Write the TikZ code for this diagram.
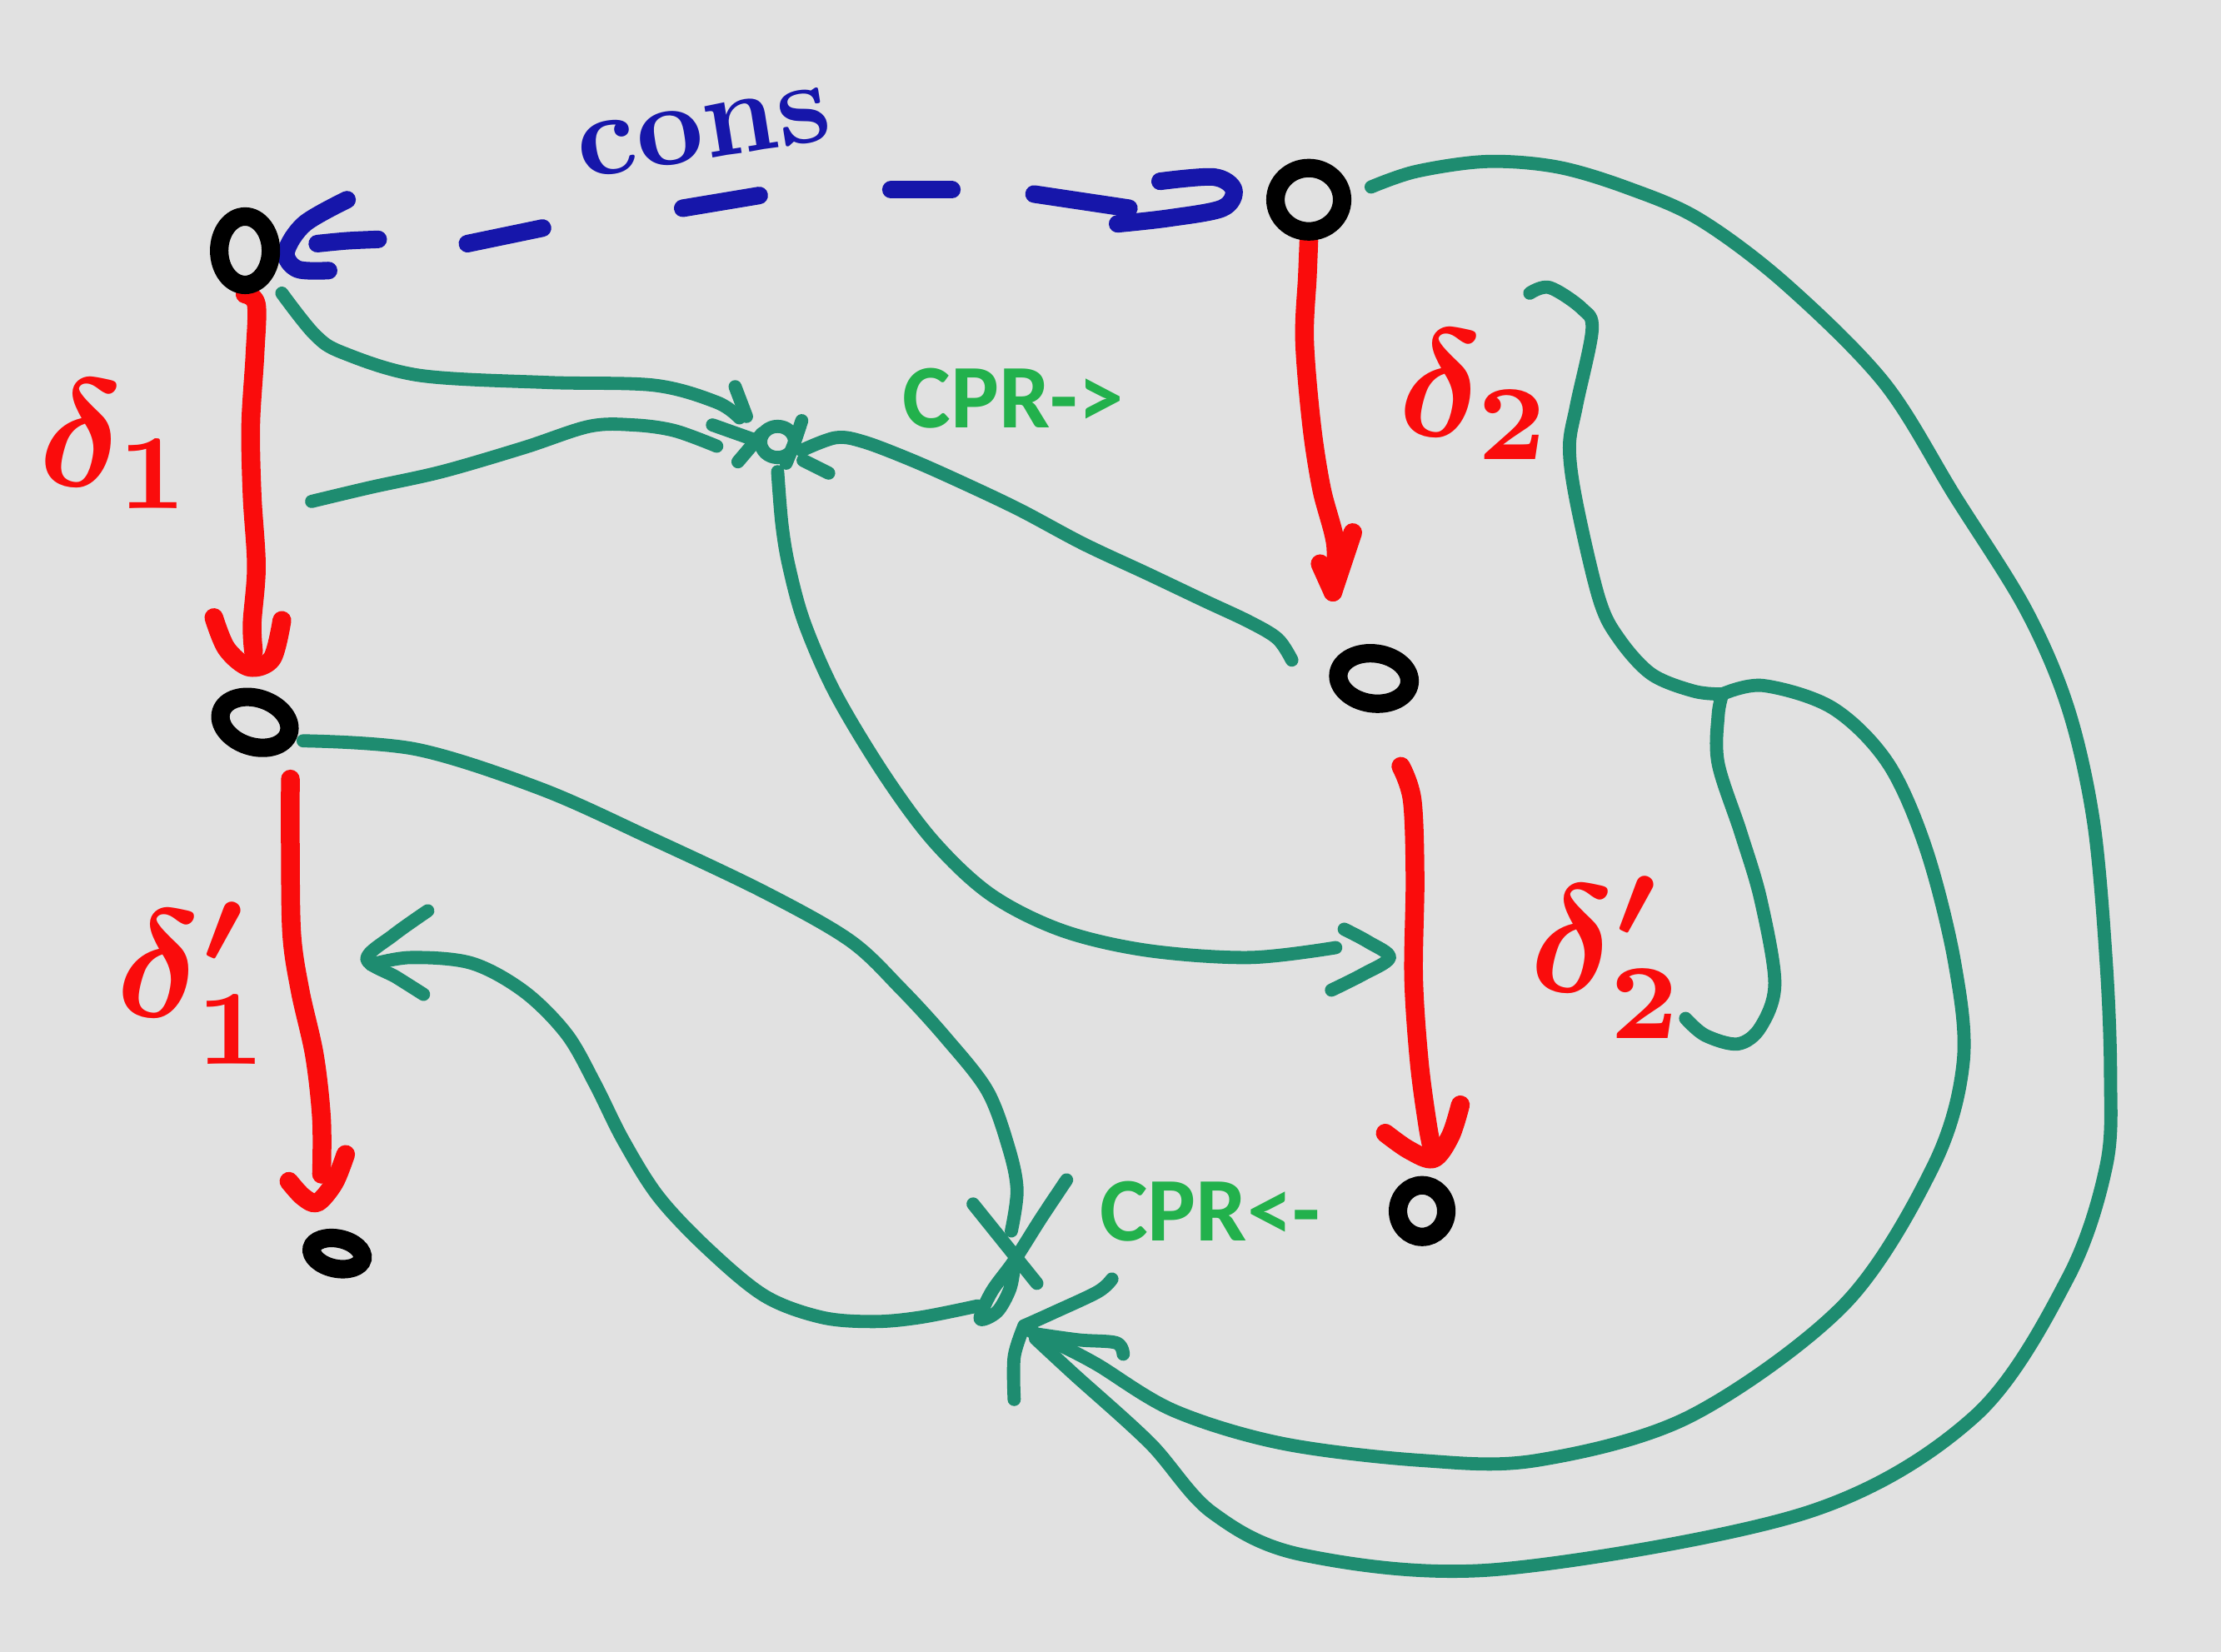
\documentclass[tikz,border=0pt]{standalone}
\usepackage{fontspec}
\newfontfamily\cprfont{Carlito}
\usetikzlibrary{shapes.geometric}
\definecolor{bgc}{RGB}{225,225,225}
\definecolor{myred}{RGB}{250,12,12}
\definecolor{myblue}{RGB}{22,22,170}
\definecolor{mygreen}{RGB}{30,140,112}
\definecolor{cprgreen}{RGB}{34,177,76}
\pgfdeclarelayer{back}
\pgfdeclarelayer{mid}
\pgfsetlayers{back,mid,main}
\begin{document}
\begin{tikzpicture}[x=0.017cm,y=-0.017cm,
  onode/.style={ellipse,draw=black,line width=6.3pt,inner sep=0pt},
  redline/.style={draw=myred,line width=6.4pt,line cap=round,line join=round},
  greenline/.style={draw=mygreen,line width=4.5pt,line cap=round,line join=round},
  blueline/.style={draw=myblue,line width=6pt,line cap=round,line join=round},
  dlabel/.style={text=myred,font=\boldmath,scale=5.2,inner sep=0pt,anchor=base west},
  cprlabel/.style={text=cprgreen,font=\cprfont\bfseries\fontsize{31}{31}\selectfont,inner sep=0pt,anchor=base west},
  sm/.style={smooth,tension=0.55}]
\begin{pgfonlayer}{back}
\fill[bgc] (0,0) rectangle (1568,1166);
\end{pgfonlayer}
\useasboundingbox (0,0) rectangle (1568,1166);

% objects
\node[onode,minimum width=0.62cm,minimum height=0.82cm] (A) at (173,177) {};
\node[onode,minimum width=0.80cm,minimum height=0.76cm] (B) at (924,141) {};
\node[onode,minimum width=0.85cm,minimum height=0.58cm,rotate=-18] (C) at (180,510) {};
\node[onode,minimum width=0.86cm,minimum height=0.60cm,rotate=-8] (D) at (970,479) {};
\node[onode,minimum width=0.62cm,minimum height=0.36cm,rotate=-12] (E) at (238,885) {};
\node[onode,minimum width=0.58cm,minimum height=0.62cm] (F) at (1004,855) {};

% junctions
\coordinate (K) at (549,312);
\coordinate (X) at (716,890);
\coordinate (M) at (1216,490);
\coordinate (T) at (723,936);

% labels
\node[dlabel] (d1) at (25,343) {$\delta_1$};
\node[dlabel] (d2) at (985,308) {$\delta_2$};
\node[dlabel] (d1p) at (80,718) {$\delta_1'$};
\node[dlabel] (d2p) at (1078,700) {$\delta_2'$};
\node[text=myblue,font=\bfseries,rotate=9,scale=4,inner sep=0pt] (cons) at (497,94) {cons};
\node[cprlabel] (cprR) at (637,302) {CPR->};
\node[cprlabel] (cprL) at (776,876) {CPR<-};

\begin{pgfonlayer}{mid}
% blue cons arrow
\draw[blueline] plot[sm] coordinates {(245,141) (215,158) (202,178) (210,190) (232,191)};
\draw[blueline] plot[sm] coordinates {(224,172) (245,170) (267,169)};
\draw[blueline] (330,172) -- (383,161);
\draw[blueline] (482,147) -- (536,138);
\draw[blueline] (629,134) -- (672,134);
\draw[blueline] (730,137) -- (797,147);
\draw[blueline] plot[sm] coordinates {(819,128) (857,125) (871,134) (863,147) (825,154) (789,158)};

% red arrows
\draw[redline] plot[sm] coordinates {(A.south) (181,215) (180,250) (177,300) (178,350) (181,400) (178,440) (179,460)};
\draw[redline] plot[sm] coordinates {(151,436) (160,458) (176,471) (192,465) (199,438)};
\draw[redline] plot[sm] coordinates {(B.south) (923,195) (921,240) (926,300) (933,345) (943,385) (941,418)};
\draw[redline] (932,398) -- (941,418) -- (955,376);
\draw[redline] plot[sm] coordinates {(205,550) (205,600) (206,660) (212,700) (222,745) (227,790) (227,829)};
\draw[redline] plot[sm] coordinates {(204,834) (214,845) (224,849) (236,835) (244,815)};
\draw[redline] plot[sm] coordinates {(989,541) (997,565) (999,620) (998,690) (1002,750) (1008,795) (1012,815)};
\draw[redline] plot[sm] coordinates {(978,800) (995,812) (1012,818) (1024,802) (1031,780)};

% CPR-> junction
\draw[greenline] plot[sm] coordinates {(199,207) (222,236) (242,249) (296,265) (386,270) (462,272) (506,284) (522,295)};
\draw[greenline] plot[sm] coordinates {(220,354) (262,344) (312,333) (370,316) (416,301) (447,300) (476,304) (506,315)};
\draw[greenline] plot[sm] coordinates {(912,466) (902,451) (882,439) (850,424) (810,405) (765,384) (720,360) (680,341) (644,325) (610,312) (590,309) (566,318)};
\draw[greenline] (519,273) -- (527,294);
\draw[greenline] (503,300) -- (534,311);
\draw[greenline] (521,326) -- (538,306);
\draw[greenline] (K) ellipse [x radius=12, y radius=11];
\draw[greenline] plot[sm] coordinates {(566,297) (561,312) (555,327)};
\draw[greenline] (567,325) -- (585,334);
\draw[greenline] plot[sm] coordinates {(549,333) (552,370) (557,400) (568,440) (590,490) (625,548) (660,595) (700,632) (750,657) (810,671) (882,676) (943,669)};
\draw[greenline] plot[sm] coordinates {(949,656) (966,665) (981,676) (962,688) (940,699)};

% CPR<- junction
\draw[greenline] plot[sm] coordinates {(214,523) (294,529) (382,557) (460,592) (540,630) (600,664) (636,698) (668,733) (697,770) (712,810) (718,840) (714,869)};
\draw[greenline] (687,850) -- (732,906);
\draw[greenline] plot[sm] coordinates {(753,833) (735,860) (X) (700,912) (692,931) (704,926) (713,910) (716,894)};
\draw[greenline] plot[sm] coordinates {(690,922) (650,930) (617,933) (580,930) (540,915) (500,882) (465,845) (440,805) (420,765) (400,730) (370,700) (333,680) (290,676) (262,681)};
\draw[greenline] plot[sm] coordinates {(302,643) (278,660) (259,677) (280,690) (299,702)};

% right side merges
\draw[greenline] plot[sm] coordinates {(1080,207) (1094,203) (1117,218) (1124,233) (1113,286) (1108,316) (1113,355) (1129,423) (1143,451) (1166,476) (1196,488) (M)};
\draw[greenline] plot[sm] coordinates {(1190,719) (1204,731) (1227,737) (1243,725) (1253,694) (1243,635) (1229,588) (1213,539) (1213,505) (M)};
\draw[greenline] plot[sm] coordinates {(M) (1245,484) (1294,500) (1333,539) (1360,600) (1380,680) (1386,750) (1365,823) (1302,921) (1193,1000) (1085,1031) (1003,1031) (905,1019) (829,996) (774,963) (745,948) (728,940)};
\draw[greenline] plot[sm] coordinates {(968,132) (1000,121) (1050,114) (1100,118) (1150,133) (1200,155) (1260,200) (1330,270) (1380,350) (1430,430) (1460,500) (1478,580) (1487,680) (1490,760) (1487,823) (1460,902) (1394,1000) (1275,1068) (1057,1108) (921,1098) (856,1068) (812,1019) (758,970) (731,945)};
\draw[greenline] plot[sm] coordinates {(785,903) (775,912) (743,927) (T)};
\draw[greenline] plot[sm] coordinates {(T) (716,958) (716,988)};
\draw[greenline] plot[sm] coordinates {(733,942) (762,946) (788,948) (793,956)};
\end{pgfonlayer}
\end{tikzpicture}
\end{document}
